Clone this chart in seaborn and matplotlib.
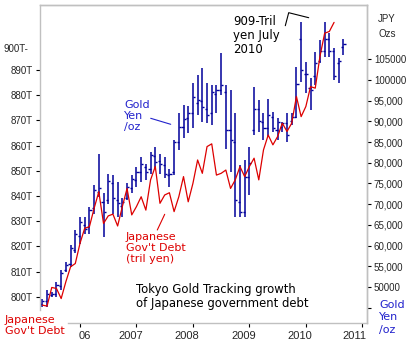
import matplotlib
matplotlib.use("Agg")
import matplotlib.pyplot as plt
from matplotlib.lines import Line2D
from matplotlib.transforms import ScaledTranslation
import seaborn as sns
import pandas as pd
import numpy as np

sns.set_style("white")
plt.rcParams['font.family'] = ['DejaVu Sans']

# ---------------- data ----------------
# months counted from Jan 2006 (0 = Jan 2006)
bar_months = list(range(-8, 57))
gold_high = [47200, 49200, 48800, 51200, 54000, 56000, 60100, 63700,
             66900, 66900, 69300, 74600, 82200, 72600, 77400, 77000, 75400, 71400, 75000, 77000,
             79000, 81400, 79800, 82600, 83800, 82200, 81400, 78600, 85500, 91900, 93900, 93700,
             99200, 101200, 102800, 99200, 98800, 98800, 106400, 98800, 97600, 91900, 79400, 80600,
             83800, 98400, 95100, 91900, 95500, 92300, 90700, 89900, 91900, 91900, 103200, 114100,
             104400, 100400, 106800, 109600, 114100, 111300, 107600, 105200, 110000]
gold_low = [45200, 45200, 47600, 47600, 49200, 53600, 54800, 58100,
            60500, 62900, 62900, 67700, 71800, 62100, 70100, 67700, 66900, 66900, 71000, 72600,
            74200, 75400, 75800, 77400, 78600, 77400, 76200, 74200, 77000, 83000, 85900, 87100,
            88300, 91500, 89900, 89500, 89100, 91900, 96300, 83400, 77800, 66900, 66900, 66900,
            72200, 86700, 87500, 85500, 86300, 87500, 85500, 87500, 85100, 89100, 90700, 99600,
            96800, 92700, 98800, 104000, 105600, 105600, 100000, 99200, 106000]
gold_open = [45800, 46500, 48000, 48200, 50200, 54200, 55600, 59000,
             62400, 65000, 64500, 69000, 73000, 70500, 71000, 75000, 71000, 69500, 71500, 74000,
             75800, 77800, 79000, 78500, 81600, 80500, 79400, 77000, 77800, 85000, 88600, 90800,
             92000, 94500, 95000, 93000, 92000, 96500, 97500, 97000, 88000, 85000, 70500, 68000,
             76500, 88000, 93000, 89800, 88500, 91000, 88000, 88600, 89500, 90000, 91000, 110000,
             101500, 98000, 101000, 104500, 107000, 110000, 107000, 104000, 108000]
gold_close = [46600, 48400, 48300, 50400, 53400, 55400, 59500, 62800,
              65800, 64000, 68500, 73400, 74000, 68000, 75600, 71500, 70200, 70600, 74200, 76000,
              77800, 79800, 77800, 81800, 80200, 79800, 77400, 77400, 85000, 88600, 90600, 92000,
              96000, 95200, 93500, 91500, 97000, 97500, 98800, 88000, 85500, 71000, 68000, 76500,
              80000, 93000, 90000, 88500, 91500, 88500, 89800, 89500, 86800, 91000, 99000, 102500,
              101500, 97500, 104000, 107000, 110000, 107000, 101000, 104500, 108800]

debt_months = list(range(-8, 55))
debt_tril = [796.7, 796.3, 803.7, 803.3, 799.3, 806.0, 811.9, 813.2,
             821.2, 827.2, 827.8, 835.1, 841.7, 829.1, 832.1, 832.8, 828.1, 835.8, 843.0, 832.5,
             835.8, 839.7, 834.4, 846.4, 851.7, 837.1, 840.4, 841.3, 833.8, 839.7, 847.7, 837.7,
             845.0, 854.3, 849.0, 859.6, 860.7, 848.3, 849.0, 850.3, 843.0, 846.4, 851.7, 847.7,
             851.7, 855.0, 846.4, 858.3, 864.2, 860.3, 863.6, 868.9, 865.6, 868.9, 879.5, 871.5,
             875.5, 883.4, 882.8, 895.4, 904.6, 905.3, 908.9]

year_ticks = [0, 12, 24, 36, 48, 60]
year_labels = ["06", "2007", "2008", "2009", "2010", "2011"]
debt_ticks = [800, 810, 820, 830, 840, 850, 860, 870, 880, 890]
gold_ticks = [45000, 50000, 55000, 60000, 65000, 70000, 75000, 80000, 85000, 90000,
              95000, 100000, 105000]
gold_labels = ["", "50000", "55,000", "60,000", "65,000", "70,000", "75,000", "80,000",
               "85,000", "90,000", "95,000", "100000", "105000"]

W, H = 419, 344
BLUE = "#00009a"
RED = "#dd0000"
TXT_BLUE = "#2222cc"
GRAY = "#c0c0c0"

def fx(px):
    return px / W

def fy(py):
    return 1 - py / H

fig = plt.figure(figsize=(W / 100, H / 100), dpi=100)
ax = fig.add_axes([fx(40), fy(323), (367 - 40) / W, (323 - 5) / H])
ax2 = ax.twinx()
ax.yaxis.tick_right()
ax2.yaxis.tick_left()
ax.patch.set_visible(False)

# gold OHLC bars
bars = pd.DataFrame({"m": bar_months, "hi": gold_high, "lo": gold_low,
                     "op": gold_open, "cl": gold_close})
ax.vlines(bars["m"], bars["lo"], bars["hi"], color=BLUE, lw=1.1)
ax.hlines(bars["op"], bars["m"] - 0.45, bars["m"], color=BLUE, lw=1.0)
ax.hlines(bars["cl"], bars["m"], bars["m"] + 0.45, color=BLUE, lw=1.0)

# debt line
debt = pd.DataFrame({"m": debt_months, "debt": debt_tril})
sns.lineplot(data=debt, x="m", y="debt", ax=ax2, color=RED, lw=0.9)

ax.set_xlim(-8.5, 61.0)
ax.set_ylim(41300, 118100)
ax2.set_ylim(789.6, 915.8)

for a in (ax, ax2):
    a.set_xlabel("")
    a.set_ylabel("")

ax.set_xticks(year_ticks)
ax.set_xticklabels(year_labels)
ax.set_yticks(gold_ticks)
ax.set_yticklabels(gold_labels)
ax2.set_yticks(debt_ticks)
ax2.set_yticklabels([f"{v}T" for v in debt_ticks])

tick_font = ['Liberation Sans', 'DejaVu Sans']
for lab in ax.get_yticklabels() + ax2.get_yticklabels() + ax.get_xticklabels():
    lab.set_fontfamily(tick_font)
ax.tick_params(axis='y', which='both', right=True, left=False, length=3, width=0.8,
               color='black', pad=2, labelsize=7)
ax2.tick_params(axis='y', which='both', left=True, right=False, length=3, width=0.8,
                color='black', pad=2, labelsize=7)
ax.tick_params(axis='x', bottom=True, length=3, width=0.8, color='black', pad=3, labelsize=8)

# shift x labels like the reference (06 right of its tick, years left of theirs)
shifts = [5, -6, -6, -6, -6, -8]
for lab, s in zip(ax.get_xticklabels(), shifts):
    lab.set_transform(lab.get_transform() + ScaledTranslation(s / 100, 0, fig.dpi_scale_trans))

for a in (ax, ax2):
    for s in a.spines.values():
        s.set_color(GRAY)
        s.set_linewidth(1.0)
    a.grid(False)
ax2.spines['bottom'].set_visible(False)
ax.spines['left'].set_visible(False)
ax2.spines['left'].set_bounds(794.7, 915.8)
ax.spines['bottom'].set_bounds(-2.55, 61.0)

# text annotations
fig.text(fx(3), fy(49), "900T-", fontsize=7, family=tick_font, va='center', ha='left')
fig.text(fx(378), fy(14), "JPY\nOzs", fontsize=7, family=tick_font, va='top', ha='left',
         linespacing=1.6)
fig.text(fx(379), fy(300), "Gold\nYen\n/oz", fontsize=8, color=TXT_BLUE, va='top', ha='left',
         linespacing=1.3)
fig.text(fx(5), fy(315), "Japanese\nGov't Debt", fontsize=8, color=RED, va='top', ha='left',
         linespacing=1.15)
fig.text(fx(124), fy(100), "Gold\nYen\n/oz", fontsize=8, color=TXT_BLUE, va='top', ha='left',
         linespacing=1.15)
fig.text(fx(126), fy(232), "Japanese\nGov't Debt\n(tril yen)", fontsize=8, color=RED,
         va='top', ha='left', linespacing=1.15)
fig.text(fx(233), fy(15), "909-Tril\nyen July\n2010", fontsize=8.5, color="black",
         va='top', ha='left', linespacing=1.1)
fig.text(fx(136), fy(283), "Tokyo Gold Tracking growth\nof Japanese government debt",
         fontsize=8.4, color="black", va='top', ha='left', linespacing=1.1)

fig.add_artist(Line2D([fx(150.7), fx(170.7)], [fy(118.3), fy(124.3)], color=TXT_BLUE, lw=0.8,
                      transform=fig.transFigure))
fig.add_artist(Line2D([fx(157.3), fx(164.7)], [fy(230), fy(214.3)], color=RED, lw=0.8,
                      transform=fig.transFigure))
fig.add_artist(Line2D([fx(285.3), fx(288.7), fx(308.7)], [fy(25.7), fy(12.7), fy(17.7)],
                      color="black", lw=0.8, transform=fig.transFigure))

fig.savefig("out.png", dpi=100)
